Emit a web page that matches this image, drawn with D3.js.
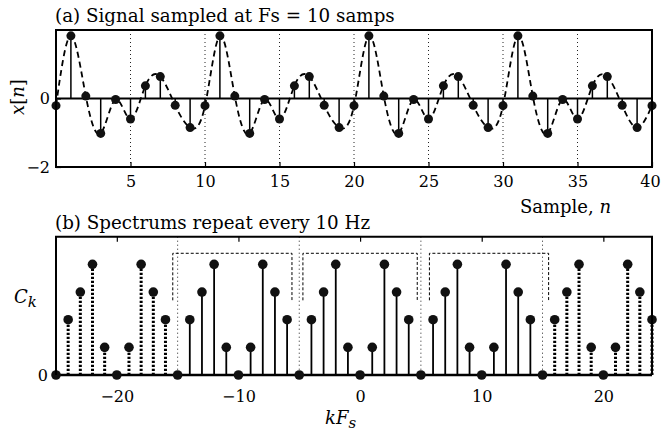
<!DOCTYPE html>
<html>
<head>
<meta charset="utf-8">
<script src="https://cdn.jsdelivr.net/npm/d3@7"></script>
<style>
  body { margin: 0; background: #fff; }
  text { font-family: "DejaVu Serif", serif; fill: #000; }
</style>
</head>
<body>
<svg id="chart" width="661" height="431"></svg>
<script>
// (a) signal samples, n = 0..40
var sampleN = d3.range(0, 41);
var sampleX = [
  -0.21, 1.83, 0.07, -1.02, -0.03, -0.60, 0.37, 0.64, -0.20, -0.85,
  -0.21, 1.83, 0.07, -1.02, -0.03, -0.60, 0.37, 0.64, -0.20, -0.85,
  -0.21, 1.83, 0.07, -1.02, -0.03, -0.60, 0.37, 0.64, -0.20, -0.85,
  -0.21, 1.83, 0.07, -1.02, -0.03, -0.60, 0.37, 0.64, -0.20, -0.85,
  -0.21
];
var topTicksX = [5, 10, 15, 20, 25, 30, 35, 40];
var topTicksY = [-2, 0];
var topGrid = [5, 10, 15, 20, 25, 30, 35];

// (b) spectrum, k = -25..24
var specK = d3.range(-25, 25);
var specC = [
  0, 2, 3, 4, 1, 0, 1, 4, 3, 2,
  0, 2, 3, 4, 1, 0, 1, 4, 3, 2,
  0, 2, 3, 4, 1, 0, 1, 4, 3, 2,
  0, 2, 3, 4, 1, 0, 1, 4, 3, 2,
  0, 2, 3, 4, 1, 0, 1, 4, 3, 2
];
var botTicksX = [-20, -10, 0, 10, 20];
var botTicksY = [0];
var bandEdges = [-15, -5, 5, 15];
var bracketLo = [-15.4, -4.7, 5.7];
var bracketHi = [-5.6, 4.7, 15.5];
var baseBand = 15; // |k| < 15 drawn solid, the rest dotted

var svg = d3.select('#chart');
svg.append('rect').attr('width', 661).attr('height', 431).attr('fill', '#fff');

// ---------- panel (a) ----------
var xTop = d3.scaleLinear().domain([0, 40]).range([56, 652]);
var yTop = d3.scaleLinear().domain([-2, 2]).range([167, 30]);
var gA = svg.append('g');

gA.selectAll('.grid').data(topGrid).enter().append('line')
  .attr('x1', d => xTop(d)).attr('x2', d => xTop(d))
  .attr('y1', yTop(2)).attr('y2', yTop(-2))
  .attr('stroke', '#222').attr('stroke-width', 1).attr('stroke-dasharray', '1,3');

var curve = d3.line()
  .x((d, i) => xTop(sampleN[i]))
  .y(d => yTop(d))
  .curve(d3.curveNatural);
gA.append('path').attr('d', curve(sampleX))
  .attr('fill', 'none').attr('stroke', '#000').attr('stroke-width', 1.8)
  .attr('stroke-dasharray', '6,4');

gA.selectAll('.stem').data(sampleX).enter().append('line')
  .attr('x1', (d, i) => xTop(sampleN[i])).attr('x2', (d, i) => xTop(sampleN[i]))
  .attr('y1', yTop(0)).attr('y2', d => yTop(d))
  .attr('stroke', '#000').attr('stroke-width', 1.5);

gA.append('line').attr('x1', xTop(0)).attr('x2', xTop(40))
  .attr('y1', yTop(0)).attr('y2', yTop(0))
  .attr('stroke', '#000').attr('stroke-width', 2);

gA.selectAll('.dot').data(sampleX).enter().append('circle')
  .attr('cx', (d, i) => xTop(sampleN[i])).attr('cy', d => yTop(d))
  .attr('r', 4.5).attr('fill', '#111');

var axA = gA.append('g').attr('transform', 'translate(0,' + yTop(-2) + ')')
  .call(d3.axisBottom(xTop).tickValues(topTicksX).tickSizeInner(-5).tickSizeOuter(0).tickPadding(9).tickFormat(d3.format('d')));
var ayA = gA.append('g').attr('transform', 'translate(' + xTop(0) + ',0)')
  .call(d3.axisLeft(yTop).tickValues(topTicksY).tickSizeInner(-5).tickSizeOuter(0).tickPadding(6).tickFormat(d3.format('d')));
[axA, ayA].forEach(function(a) {
  a.select('.domain').remove();
  a.selectAll('line').attr('stroke', '#000').attr('stroke-width', 1.2);
  a.selectAll('text').attr('font-size', 16).attr('font-family', '"DejaVu Serif", serif');
});
// keep the last label inside the window
axA.selectAll('.tick').filter(d => d === 40).select('text').attr('dx', -2);

gA.append('rect').attr('x', xTop(0)).attr('y', yTop(2))
  .attr('width', xTop(40) - xTop(0)).attr('height', yTop(-2) - yTop(2))
  .attr('fill', 'none').attr('stroke', '#000').attr('stroke-width', 2);

svg.append('text').attr('x', 55).attr('y', 21.5).attr('font-size', 18.3)
  .text('(a) Signal sampled at Fs = 10 samps');

var yl = svg.append('text').attr('transform', 'translate(24,97) rotate(-90)')
  .attr('text-anchor', 'middle').attr('font-size', 18);
yl.append('tspan').attr('font-style', 'italic').text('x');
yl.append('tspan').text('[');
yl.append('tspan').attr('font-style', 'italic').text('n');
yl.append('tspan').text(']');

var xl = svg.append('text').attr('x', 611).attr('y', 213).attr('text-anchor', 'end').attr('font-size', 18);
xl.append('tspan').text('Sample, ');
xl.append('tspan').attr('font-style', 'italic').text('n');

// ---------- panel (b) ----------
var xBot = d3.scaleLinear().domain([-25, 24]).range([56, 652]);
var yBot = d3.scaleLinear().domain([0, 5]).range([375, 236.7]);
var gB = svg.append('g');

gB.selectAll('.edge').data(bandEdges).enter().append('line')
  .attr('x1', d => xBot(d)).attr('x2', d => xBot(d))
  .attr('y1', yBot(5)).attr('y2', yBot(0))
  .attr('stroke', '#222').attr('stroke-width', 1).attr('stroke-dasharray', '1,3');

gB.selectAll('.bracket').data(bracketLo).enter().append('path')
  .attr('d', function(d, i) {
    return d3.line()([
      [xBot(d), yBot(2.7)], [xBot(d), yBot(4.4)],
      [xBot(bracketHi[i]), yBot(4.4)], [xBot(bracketHi[i]), yBot(2.7)]
    ]);
  })
  .attr('fill', 'none').attr('stroke', '#000').attr('stroke-width', 1)
  .attr('stroke-dasharray', '3,2');

gB.selectAll('.stem').data(specC).enter().append('line')
  .attr('x1', (d, i) => xBot(specK[i])).attr('x2', (d, i) => xBot(specK[i]))
  .attr('y1', yBot(0)).attr('y2', d => yBot(d))
  .attr('stroke', '#000')
  .attr('stroke-width', (d, i) => Math.abs(specK[i]) < baseBand ? 1.8 : 3)
  .attr('stroke-dasharray', (d, i) => Math.abs(specK[i]) < baseBand ? null : '2.2,1.8');

gB.append('line').attr('x1', xBot(-25)).attr('x2', xBot(24))
  .attr('y1', yBot(0)).attr('y2', yBot(0))
  .attr('stroke', '#000').attr('stroke-width', 2.5);

gB.selectAll('.dot').data(specC).enter().append('circle')
  .attr('cx', (d, i) => xBot(specK[i])).attr('cy', d => yBot(d))
  .attr('r', 4.8).attr('fill', '#111');

var axB = gB.append('g').attr('transform', 'translate(0,' + yBot(0) + ')')
  .call(d3.axisBottom(xBot).tickValues(botTicksX).tickSize(0).tickPadding(16).tickFormat(d3.format('d')));
var axBt = gB.append('g').attr('transform', 'translate(0,' + yBot(5) + ')')
  .call(d3.axisTop(xBot).tickValues(botTicksX).tickSizeInner(-5).tickSizeOuter(0).tickFormat(''));
var ayB = gB.append('g').attr('transform', 'translate(' + xBot(-25) + ',0)')
  .call(d3.axisLeft(yBot).tickValues(botTicksY).tickSize(0).tickPadding(8).tickFormat(d3.format('d')));
[axB, axBt, ayB].forEach(function(a) {
  a.select('.domain').remove();
  a.selectAll('line').attr('stroke', '#000').attr('stroke-width', 1.2);
  a.selectAll('text').attr('font-size', 16).attr('font-family', '"DejaVu Serif", serif');
});

gB.append('path')
  .attr('d', d3.line()([[xBot(-25), yBot(0)], [xBot(-25), yBot(5)], [xBot(24), yBot(5)], [xBot(24), yBot(0)]]))
  .attr('fill', 'none').attr('stroke', '#000').attr('stroke-width', 2);

svg.append('text').attr('x', 55).attr('y', 229).attr('font-size', 18.3)
  .text('(b) Spectrums repeat every 10 Hz');

var cl = svg.append('text').attr('x', 14).attr('y', 303).attr('font-size', 18).attr('font-style', 'italic');
cl.append('tspan').text('C');
cl.append('tspan').attr('dy', 4).attr('font-size', 15).text('k');

var kl = svg.append('text').attr('x', 325).attr('y', 424).attr('font-size', 18).attr('font-style', 'italic');
kl.append('tspan').text('kF');
kl.append('tspan').attr('dy', 4).attr('font-size', 15).text('s');
</script>
</body>
</html>
